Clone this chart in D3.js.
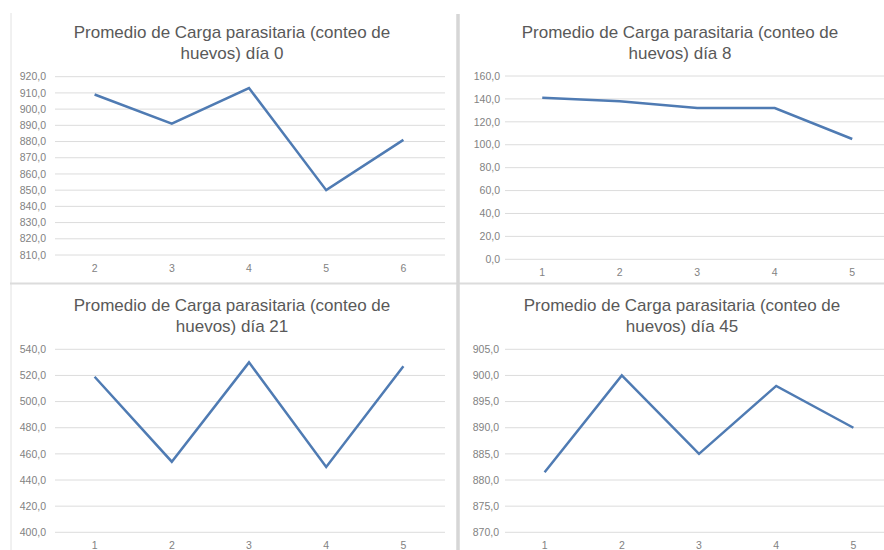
<!DOCTYPE html>
<html><head><meta charset="utf-8">
<script src="https://cdn.jsdelivr.net/npm/d3@7"></script>
<style>
html,body{margin:0;padding:0;background:#fff;}
svg{display:block;font-family:"Liberation Sans",Arial,sans-serif;}
</style></head>
<body><svg id="c" width="884" height="550"></svg>
<script>
const titleLine1 = "Promedio de Carga parasitaria (conteo de";
const titles2 = ["huevos) día 0", "huevos) día 8", "huevos) día 21", "huevos) día 45"];

const cats0 = ["2","3","4","5","6"];
const vals0 = [909, 891, 913, 850, 881];
const ticks0 = [810,820,830,840,850,860,870,880,890,900,910,920];

const cats8 = ["1","2","3","4","5"];
const vals8 = [141, 138, 132, 132, 105];
const ticks8 = [0,20,40,60,80,100,120,140,160];

const cats21 = ["1","2","3","4","5"];
const vals21 = [519, 454, 530, 450, 527];
const ticks21 = [400,420,440,460,480,500,520,540];

const cats45 = ["1","2","3","4","5"];
const vals45 = [881.5, 900, 885, 898, 890];
const ticks45 = [870,875,880,885,890,895,900,905];

const panels = [
  {cats:cats0, vals:vals0, ticks:ticks0, t2:titles2[0], x0:56, x1:442, gx0:55, gx1:445, yTop:76.7, yBot:255, labR:46, cx:232, ty:38, xl:268},
  {cats:cats8, vals:vals8, ticks:ticks8, t2:titles2[1], x0:503.5, x1:891, gx0:505, gx1:884, yTop:76, yBot:259.3, labR:500, cx:680, ty:38, xl:272},
  {cats:cats21, vals:vals21, ticks:ticks21, t2:titles2[2], x0:56, x1:442, gx0:55, gx1:445, yTop:349.3, yBot:532.3, labR:46, cx:232, ty:311, xl:545},
  {cats:cats45, vals:vals45, ticks:ticks45, t2:titles2[3], x0:506, x1:892, gx0:505, gx1:884, yTop:349.3, yBot:532.3, labR:499, cx:682, ty:311, xl:545}
];

const svg = d3.select("#c");
const fmt = v => d3.format(".1f")(v).replace(".", ",");

// separators
svg.append("line").attr("x1",11).attr("x2",11).attr("y1",13).attr("y2",550).attr("stroke","#e2e2e2").attr("stroke-width",1);
svg.append("line").attr("x1",10).attr("x2",884).attr("y1",283.5).attr("y2",283.5).attr("stroke","#dcdcdc").attr("stroke-width",2);
svg.append("line").attr("x1",458).attr("x2",458).attr("y1",14).attr("y2",550).attr("stroke","#d6d6d6").attr("stroke-width",3.5);

panels.forEach(p => {
  const g = svg.append("g");
  const x = d3.scalePoint().domain(p.cats).range([p.x0, p.x1]).padding(0.5);
  const y = d3.scaleLinear().domain([d3.min(p.ticks), d3.max(p.ticks)]).range([p.yBot, p.yTop]);

  g.selectAll(".grid").data(p.ticks).enter().append("line")
    .attr("x1", p.gx0).attr("x2", p.gx1)
    .attr("y1", d => y(d)).attr("y2", d => y(d))
    .attr("stroke", "#dcdcdc").attr("stroke-width", 1);

  g.selectAll(".yl").data(p.ticks).enter().append("text")
    .attr("x", p.labR).attr("y", d => y(d)).attr("dy","0.35em")
    .attr("text-anchor","end").attr("font-size", 10.5).attr("fill","#828282")
    .text(fmt);

  g.selectAll(".xl").data(p.cats).enter().append("text")
    .attr("x", d => x(d)).attr("y", p.xl).attr("dy","0.35em")
    .attr("text-anchor","middle").attr("font-size", 10.5).attr("fill","#828282")
    .text(d => d);

  g.append("text").attr("x", p.cx).attr("y", p.ty).attr("text-anchor","middle")
    .attr("font-size", 17).attr("fill","#595959").text(titleLine1);
  g.append("text").attr("x", p.cx).attr("y", p.ty + 20.5).attr("text-anchor","middle")
    .attr("font-size", 17).attr("fill","#595959").text(p.t2);

  const line = d3.line().x((d,i) => x(p.cats[i])).y(d => y(d));
  g.append("path").datum(p.vals).attr("d", line)
    .attr("fill","none").attr("stroke","#4f7bb3").attr("stroke-width",2.5)
    .attr("stroke-linejoin","miter");
});
</script></body></html>
